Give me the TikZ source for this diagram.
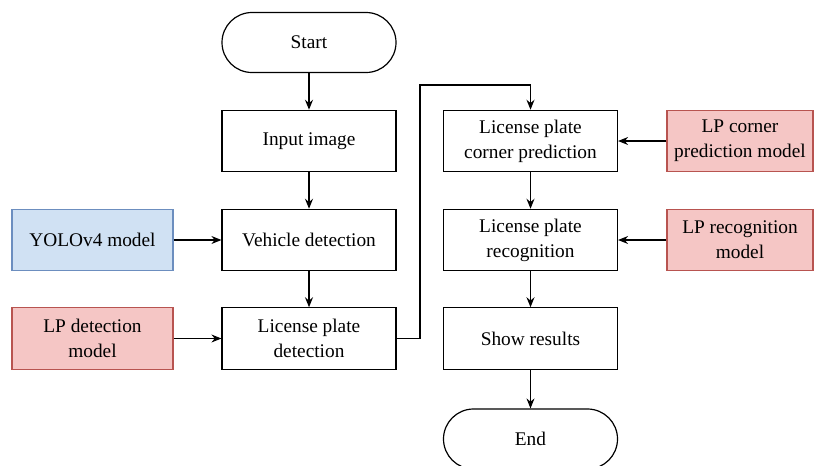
\documentclass[tikz,border=0pt]{standalone}
\usepackage{fontspec}
\setmainfont{Liberation Serif}
\usetikzlibrary{arrows.meta}

\definecolor{redfill}{HTML}{F5C6C5}
\definecolor{redstroke}{HTML}{B85450}
\definecolor{bluefill}{HTML}{D0E1F3}
\definecolor{bluestroke}{HTML}{6C8EBF}

\tikzset{
  base/.style={draw=black, line width=0.9pt, align=center, inner sep=0pt,
    font=\fontsize{14.5}{18.8}\selectfont},
  process/.style={base, minimum width=130.5pt, minimum height=46pt},
  terminal/.style={base, minimum width=130.5pt, minimum height=45pt, rounded corners=22.5pt},
  bluemodel/.style={base, draw=bluestroke, fill=bluefill, minimum height=46pt},
  redmodel/.style={base, draw=redstroke, fill=redfill, minimum height=46pt},
  flow/.style={line width=0.9pt, -{Stealth[length=7.5pt, width=6pt, inset=2.5pt]}},
}

\begin{document}
\begin{tikzpicture}[x=0.75pt, y=-0.75pt]
  \useasboundingbox (0,0) rectangle (817,465);

  % left column
  \node[terminal] (start) at (309,42.5) {Start};
  \node[process] (input) at (309,141) {Input image};
  \node[process] (vehicle) at (309,240) {Vehicle detection};
  \node[process] (lpdet) at (309,338.5) {License plate\\detection};

  % right column
  \node[process] (corner) at (530.5,141) {License plate\\corner prediction};
  \node[process] (recog) at (530.5,240) {License plate\\recognition};
  \node[process] (show) at (530.5,338.5) {Show results};
  \node[terminal] (end) at (530.5,439) {End};

  % models
  \node[bluemodel, minimum width=120.75pt] (yolo) at (92.5,240) {YOLOv4 model};
  \node[redmodel, minimum width=120.75pt] (lpmodel) at (92.5,338.5) {LP detection\\model};
  \node[redmodel, minimum width=109.5pt] (cornermodel) at (740,141) {LP corner\\prediction model};
  \node[redmodel, minimum width=109.5pt] (recogmodel) at (740,240) {LP recognition\\model};

  % connectors
  \coordinate (jogbottom) at (420,338.5);
  \coordinate (jogtop) at (420,85);
  \draw[flow] (start) -- (input);
  \draw[flow] (input) -- (vehicle);
  \draw[flow] (vehicle) -- (lpdet);
  \draw[flow] (lpdet.east) -- (jogbottom) -- (jogtop) -| (corner.north);
  \draw[flow] (corner) -- (recog);
  \draw[flow] (recog) -- (show);
  \draw[flow] (show) -- (end);
  \draw[flow] (yolo) -- (vehicle);
  \draw[flow] (lpmodel) -- (lpdet);
  \draw[flow] (cornermodel) -- (corner);
  \draw[flow] (recogmodel) -- (recog);
\end{tikzpicture}
\end{document}
